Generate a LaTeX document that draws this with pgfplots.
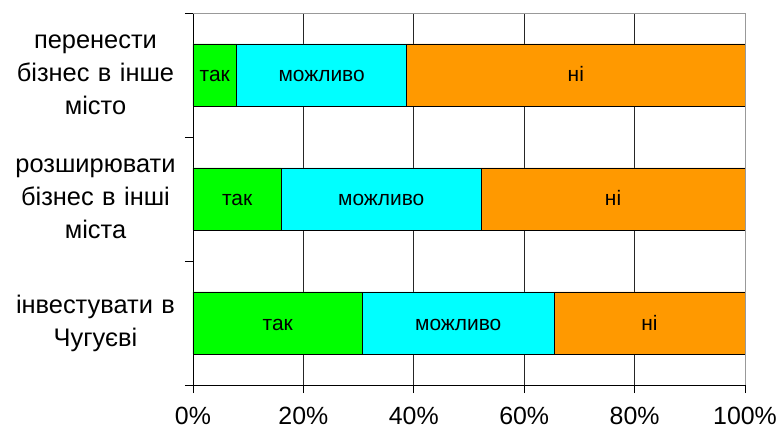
\documentclass[border=0pt]{standalone}
\usepackage{pgfplots}
\pgfplotsset{compat=1.18}
\usepackage{fontspec}
\setmainfont{Liberation Sans}
\definecolor{cyes}{HTML}{00FF00}
\definecolor{cmaybe}{HTML}{00FFFF}
\definecolor{cno}{HTML}{FF9900}
\tikzset{inbar/.style={font=\fontsize{21}{25}\selectfont, anchor=base, yshift=-7bp}}
\begin{document}
\begin{tikzpicture}
\begin{axis}[
 scale only axis, width=552bp, height=372bp,
 xbar stacked, bar width=0.5,
 xmin=0, xmax=100, ymin=-0.5, ymax=2.5,
 axis lines=left, axis line style={-, black, line width=0.8bp},
 xtick={0,20,40,60,80,100}, xticklabels={0\%,20\%,40\%,60\%,80\%,100\%},
 ytick={-0.5,0.5,1.5,2.5}, yticklabels={},
 tick align=outside, major tick length=8bp, tick style={black, line width=0.8bp},
 xmajorgrids, grid style={black!85, line width=0.8bp},
 extra y ticks={0,1,2},
 extra y tick labels={{інвестувати в\\Чугуєві},{розширювати\\бізнес в інші\\міста},{перенести\\бізнес в інше\\місто}},
 extra y tick style={major tick length=0pt, grid=none},
 yticklabel style={align=center, text width=180bp, font=\fontsize{25.5}{33}\selectfont, xshift=-4bp},
 xticklabel style={font=\fontsize{25}{30}\selectfont, yshift=-11bp},
 clip=false,
]
\addplot[fill=cyes, draw=black, line width=0.8bp] coordinates {(30.7,0) (16.0,1) (7.9,2)};
\addplot[fill=cmaybe, draw=black, line width=0.8bp] coordinates {(34.7,0) (36.2,1) (30.8,2)};
\addplot[fill=cno, draw=black, line width=0.8bp] coordinates {(34.6,0) (47.8,1) (61.3,2)};
\coordinate (TL) at (rel axis cs:0,1);
\coordinate (TR) at (rel axis cs:1,1);
\coordinate (BR) at (rel axis cs:1,0);
\coordinate (a1) at (axis cs:15.35,0);
\coordinate (a2) at (axis cs:48.05,0);
\coordinate (a3) at (axis cs:82.7,0);
\coordinate (b1) at (axis cs:8.0,1);
\coordinate (b2) at (axis cs:34.1,1);
\coordinate (b3) at (axis cs:76.1,1);
\coordinate (c1) at (axis cs:3.95,2);
\coordinate (c2) at (axis cs:23.3,2);
\coordinate (c3) at (axis cs:69.35,2);
\end{axis}
\draw[black!40, line width=0.8bp] (TL) -- (TR) -- (BR);
\node[inbar] at (a1) {так};
\node[inbar] at (a2) {можливо};
\node[inbar] at (a3) {ні};
\node[inbar] at (b1) {так};
\node[inbar] at (b2) {можливо};
\node[inbar] at (b3) {ні};
\node[inbar] at (c1) {так};
\node[inbar] at (c2) {можливо};
\node[inbar] at (c3) {ні};
\pgfresetboundingbox
\useasboundingbox ([xshift=-193bp,yshift=-47bp]current axis.south west) rectangle ([xshift=36bp,yshift=13bp]current axis.north east);
\end{tikzpicture}
\end{document}
